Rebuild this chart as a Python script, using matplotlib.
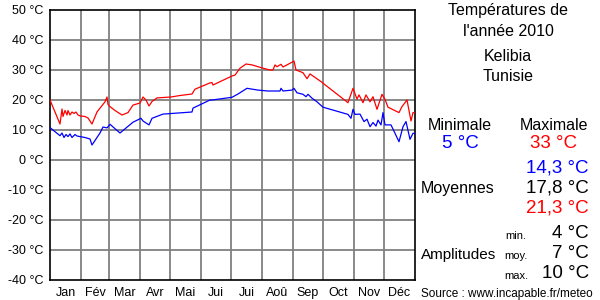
import matplotlib
matplotlib.use("Agg")
import matplotlib.pyplot as plt

# ---- data (day of year, temperature °C) ----
max_days = [0, 10, 12, 13, 15, 17, 18, 20, 22, 24, 26, 28, 30, 35, 38, 42, 47, 55, 57, 58,
            60, 65, 72, 78, 83, 90, 93, 96, 99, 102, 107, 121, 130, 142, 145, 160, 162, 163,
            182, 185, 190, 196, 202, 213, 220, 223, 225, 227, 231, 233, 242, 244, 246, 253,
            257, 260, 272, 273, 298, 303, 307, 309, 313, 316, 320, 323, 327, 332, 335, 338,
            349, 352, 357, 361, 363, 365]
max_vals = [20, 12, 17, 14.5, 16.5, 15, 16.5, 15, 16, 15.5, 16, 15, 14.7, 14.5, 14, 12, 16,
            19.4, 21, 18.5, 17.8, 16.5, 15, 15.8, 18.3, 19, 21, 20, 18, 19.5, 20.7, 21, 21.5,
            22, 23.6, 25.7, 25.8, 25, 28, 28.3, 30.6, 32, 31.7, 30.6, 30, 30, 31.7, 31.1, 31.9,
            31, 32.6, 33, 30, 29.1, 27.1, 28.7, 25.9, 25.6, 19.1, 23.9, 20.3, 21.7, 19.1, 21.7,
            19.4, 21.1, 16.9, 21.9, 20.2, 17.6, 15.8, 17.8, 20, 13, 15.8, 15.8]

min_days = [0, 10, 12, 14, 16, 18, 20, 22, 25, 27, 30, 35, 40, 42, 50, 53, 57, 60, 70, 83,
            91, 93, 99, 102, 113, 142, 143, 160, 162, 182, 188, 197, 208, 218, 230, 231, 233,
            242, 244, 247, 253, 256, 258, 262, 267, 273, 298, 301, 303, 305, 310, 314, 317,
            320, 323, 326, 328, 331, 333, 335, 341, 349, 353, 356, 360, 363, 365]
min_vals = [10.8, 8.1, 9, 7.5, 8.5, 7.8, 8.7, 7.5, 8.5, 8, 7.8, 7.5, 7, 5, 9, 11, 10.7, 11.9,
            9, 12.6, 13.9, 13, 11.7, 13.9, 15.3, 16, 17.3, 20, 20, 20.9, 22, 23.9, 23.3, 23,
            23, 23.9, 23, 23.3, 23.9, 22.4, 21.9, 21.1, 21.9, 20.6, 19.4, 17.6, 15.2, 13.9,
            16.9, 15.2, 15.3, 12.8, 13.6, 11.1, 12.5, 11.3, 13.3, 11.7, 15.8, 11.7, 11.7, 6.1,
            11.1, 12.8, 6.9, 8.9, 8.9]

months = ["Jan", "Fév", "Mar", "Avr", "Mai", "Jui", "Jui", "Aoû", "Sep", "Oct", "Nov", "Déc"]
month_starts = [0, 31, 59, 90, 120, 151, 181, 212, 243, 273, 304, 334, 365]
y_ticks = [-40, -30, -20, -10, 0, 10, 20, 30, 40, 50]
y_labels = ["-40 °C", "-30 °C", "-20 °C", "-10 °C", "0 °C", "10 °C", "20 °C", "30 °C", "40 °C", "50 °C"]

plt.rcParams['font.family'] = ['Liberation Sans', 'DejaVu Sans']

W, H = 600, 300
fig = plt.figure(figsize=(6, 3), dpi=100)
fig.patch.set_facecolor("white")
ax = fig.add_axes([50 / W, 1 - 280 / H, 365 / W, 270 / H])

ax.set_xlim(0, 365)
ax.set_ylim(-40, 50)
for m in month_starts[1:-1]:
    ax.axvline(m, color="#808080", lw=1.3, zorder=1)
for t in y_ticks[1:-1]:
    ax.axhline(t, color="#808080", lw=1.3, zorder=1)

ax.plot(max_days, max_vals, color="#ff0000", lw=0.9, zorder=3)
ax.plot(min_days, min_vals, color="#0000ff", lw=0.9, zorder=3)

ax.set_yticks(y_ticks)
ax.set_yticklabels(y_labels, fontsize=9)
centers = [(month_starts[i] + month_starts[i + 1]) / 2 for i in range(12)]
ax.set_xticks(centers)
ax.set_xticklabels(months, fontsize=9)
ax.tick_params(length=0, pad=5)
for s in ax.spines.values():
    s.set_color("black")
    s.set_linewidth(1.2)


def txt(x, y, s, size=11, color="black", ha="center"):
    fig.text(x / W, 1 - y / H, s, fontsize=size, color=color, ha=ha, va="center")


txt(508, 11, "Températures de", 11.5)
txt(508, 31, "l'année 2010", 11.5)
txt(508, 57, "Kelibia", 11.5)
txt(508, 77, "Tunisie", 11.5)
txt(460, 125, "Minimale", 11.5)
txt(554, 125, "Maximale", 11.5)
txt(460, 143, "5 °C", 13.5, "#0000ff")
txt(553, 143, "33 °C", 13.5, "#ff0000")
txt(589, 168, "14,3 °C", 13.5, "#0000ff", ha="right")
txt(589, 188, "17,8 °C", 13.5, "black", ha="right")
txt(589, 208, "21,3 °C", 13.5, "#ff0000", ha="right")
txt(421, 189, "Moyennes", 11.5, ha="left")
txt(589, 233, "4 °C", 13.5, ha="right")
txt(589, 254, "7 °C", 13.5, ha="right")
txt(589, 274, "10 °C", 13.5, ha="right")
txt(516, 236, "min.", 8)
txt(516, 256, "moy.", 8)
txt(516, 276, "max.", 8)
txt(421, 255, "Amplitudes", 11, ha="left")
txt(421, 294, "Source : www.incapable.fr/meteo", 8.5, ha="left")

fig.savefig("out.png", dpi=100)
